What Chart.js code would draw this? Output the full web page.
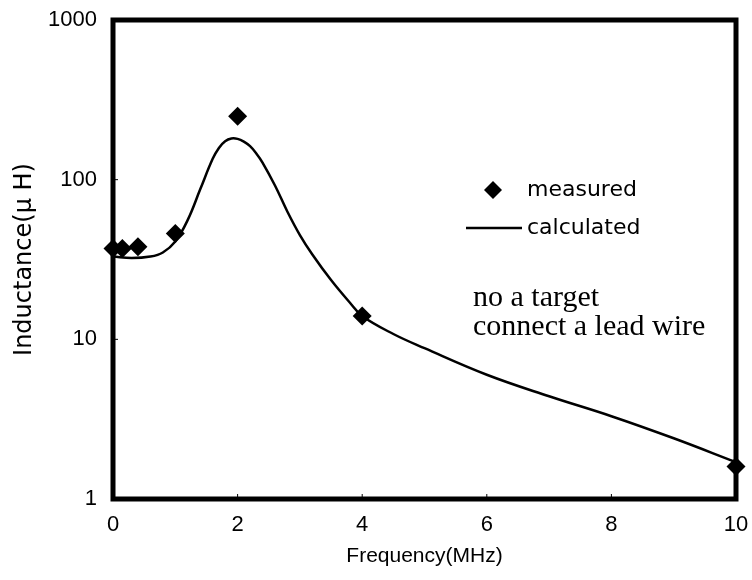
<!DOCTYPE html>
<html>
<head>
<meta charset="utf-8">
<script src="https://cdn.jsdelivr.net/npm/chart.js@4"></script>
<style>
  html, body { margin: 0; padding: 0; background: #fff; }
  #wrap { width: 752px; height: 580px; }
</style>
</head>
<body>
<div id="wrap"><canvas id="chart" width="752" height="580"></canvas></div>
<script>
// measured points (MHz, uH)
const measuredFreq = [0, 0.15, 0.4, 1, 2, 4, 10];
const measuredL = [37, 37, 38, 46, 250, 14, 1.6];

// calculated curve
const calcFreq = [0, 0.3, 0.6, 0.8, 1.0, 1.2, 1.4, 1.6, 1.7, 1.8, 1.9, 2.0, 2.1, 2.2, 2.3, 2.4, 2.6, 2.8, 3.0, 3.2, 3.5, 3.8, 4.0, 4.5, 5.0, 6.0, 7.0, 8.0, 9.0, 10.0];
const calcL = [33, 32.3, 33, 35, 41, 56, 87, 135, 158, 174, 181, 180, 173, 162, 146, 128, 92, 63, 45, 34, 23.5, 17, 14, 10.8, 8.8, 6.0, 4.4, 3.3, 2.4, 1.7];

const xTicks = [0, 2, 4, 6, 8, 10];
const yTicks = [1, 10, 100, 1000];

const legendLabels = ['measured', 'calculated'];
const noteLines = ['no a target', 'connect a lead wire'];

const toPts = (xs, ys) => xs.map((x, i) => ({x: x, y: ys[i]}));

// frame, inner ticks, legend and note text
const decorPlugin = {
    id: 'decor',
    beforeDatasetsDraw(chart) {
        const {ctx, chartArea: a, scales: {x, y}} = chart;
        ctx.save();
        ctx.strokeStyle = '#000';
        ctx.lineWidth = 1;
        xTicks.slice(1, -1).forEach(v => {
            const px = x.getPixelForValue(v);
            ctx.beginPath();
            ctx.moveTo(px, a.bottom);
            ctx.lineTo(px, a.bottom - 5);
            ctx.stroke();
        });
        yTicks.slice(1, -1).forEach(v => {
            const py = y.getPixelForValue(v);
            ctx.beginPath();
            ctx.moveTo(a.left, py);
            ctx.lineTo(a.left + 5, py);
            ctx.stroke();
        });
        ctx.lineWidth = 5;
        ctx.strokeRect(a.left, a.top, a.right - a.left, a.bottom - a.top);
        ctx.restore();
    },
    afterDraw(chart) {
        const {ctx} = chart;
        ctx.save();
        ctx.fillStyle = '#000';
        ctx.strokeStyle = '#000';
        // legend: diamond + line
        const dx = 493, dy = 190, r = 9;
        ctx.beginPath();
        ctx.moveTo(dx, dy - r);
        ctx.lineTo(dx + r, dy);
        ctx.lineTo(dx, dy + r);
        ctx.lineTo(dx - r, dy);
        ctx.closePath();
        ctx.fill();
        ctx.lineWidth = 2.5;
        ctx.beginPath();
        ctx.moveTo(466, 228);
        ctx.lineTo(522, 228);
        ctx.stroke();
        ctx.font = '22px "DejaVu Sans", sans-serif';
        ctx.textBaseline = 'middle';
        ctx.textAlign = 'left';
        ctx.fillText(legendLabels[0], 527, 190);
        ctx.fillText(legendLabels[1], 527, 228);
        // note
        ctx.font = '30px "Liberation Serif", "Times New Roman", serif';
        ctx.fillText(noteLines[0], 473, 298);
        ctx.fillText(noteLines[1], 473, 327);
        ctx.restore();
    }
};

const sansFont = '"Liberation Sans", Arial, sans-serif';

const ctx = document.getElementById('chart').getContext('2d');
const chart = new Chart(ctx, {
    type: 'scatter',
    data: {
        datasets: [{
                label: legendLabels[1],
                data: toPts(calcFreq, calcL),
                showLine: true,
                borderColor: '#000',
                borderWidth: 2.5,
                pointRadius: 0,
                tension: 0.4,
                fill: false
            },
            {
                label: legendLabels[0],
                data: toPts(measuredFreq, measuredL),
                showLine: false,
                pointStyle: 'rectRot',
                pointRadius: 9.5,
                backgroundColor: '#000',
                borderColor: '#000',
                borderWidth: 0,
                clip: false
            }
        ]
    },
    options: {
        responsive: false,
        animation: false,
        layout: {
            padding: {left: 0, right: 16, top: 20, bottom: 0}
        },
        plugins: {
            legend: {display: false},
            tooltip: {enabled: false}
        },
        scales: {
            x: {
                type: 'linear',
                min: 0,
                max: 10,
                afterFit: s => { s.height = 81; s.paddingLeft = 0; s.paddingRight = 0; },
                afterBuildTicks: s => { s.ticks = xTicks.map(v => ({value: v})); },
                grid: {display: false, drawTicks: false},
                border: {display: false},
                ticks: {
                    padding: 13,
                    color: '#000',
                    font: {family: sansFont, size: 22},
                    maxRotation: 0
                },
                title: {
                    display: true,
                    text: 'Frequency(MHz)',
                    color: '#000',
                    font: {family: sansFont, size: 21},
                    padding: {top: 0, bottom: 11}
                }
            },
            y: {
                type: 'logarithmic',
                min: 1,
                max: 1000,
                afterFit: s => { s.width = 113; s.paddingTop = 0; s.paddingBottom = 0; },
                afterBuildTicks: s => { s.ticks = yTicks.map(v => ({value: v})); },
                grid: {display: false, drawTicks: false},
                border: {display: false},
                ticks: {
                    padding: 16,
                    color: '#000',
                    font: {family: sansFont, size: 22},
                    callback: v => String(v)
                },
                title: {
                    display: true,
                    text: 'Inductance(μ H)',
                    color: '#000',
                    font: {family: '"DejaVu Sans", sans-serif', size: 24},
                    padding: {top: 10, bottom: 0}
                }
            }
        }
    },
    plugins: [decorPlugin]
});
</script>
</body>
</html>
